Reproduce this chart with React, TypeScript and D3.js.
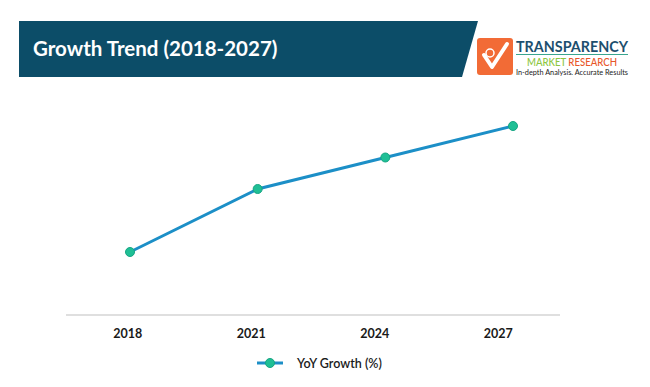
import React from "react";
import * as d3 from "d3";

const categories = ["2018", "2021", "2024", "2027"];
const yoyGrowth = [2.0, 4.0, 5.0, 6.0];
const seriesName = "YoY Growth (%)";
const title = "Growth Trend (2018-2027)";

const W = 650;
const H = 387;

export default function App() {
  const axisY = 315;
  const band = d3.scaleBand<string>().domain(categories).range([66, 560]);
  const xLine = d3.scalePoint<string>().domain(categories).range([130, 513]);
  const y = d3.scaleLinear().domain([0, 7]).range([axisY, 94.5]);
  const line = d3
    .line<number>()
    .x((_, i) => xLine(categories[i])!)
    .y((d) => y(d));

  const font = "Lato, 'Open Sans', sans-serif";

  return (
    <svg
      width={W}
      height={H}
      style={{ position: "absolute", left: 0, top: 0, background: "#fff" }}
      fontFamily={font}
    >
      <rect x={0} y={0} width={W} height={H} fill="#fff" />
      {/* Banner */}
      <path d="M19,21 L478,21 L462,77 L19,77 Z" fill="#0c4d68" />
      <text x={33} y={55.5} fill="#fff" fontSize={20.5} fontWeight={700}>
        {title}
      </text>

      {/* Logo */}
      <g>
        <rect x={477} y={38} width={36} height={37} rx={3} fill="#f26b36" />
        <path
          d="M484,55 L492,67 L507,44"
          fill="none"
          stroke="#fff"
          strokeWidth={4}
          strokeLinecap="round"
          strokeLinejoin="round"
        />
        <circle cx={490} cy={53} r={4} fill="none" stroke="#fff" strokeWidth={1.5} />
        <text x={516} y={52} fontSize={15} fontWeight={700} fill="#1d4f6e" textLength={112} lengthAdjust="spacingAndGlyphs">
          TRANSPARENCY
        </text>
        <line x1={516} x2={628} y1={54.5} y2={54.5} stroke="#3aa58f" strokeWidth={1.2} />
        <text x={527} y={65.5} fontSize={10.5} fontWeight={500} textLength={90} lengthAdjust="spacingAndGlyphs">
          <tspan fill="#8cc63f">MARKET </tspan>
          <tspan fill="#e8572a">RESEARCH</tspan>
        </text>
        <text x={516} y={75} fontSize={8} fill="#222" textLength={112} lengthAdjust="spacingAndGlyphs">
          In-depth Analysis. Accurate Results
        </text>
      </g>

      {/* Axis */}
      <line x1={66} x2={560} y1={axisY} y2={axisY} stroke="#bfbfbf" strokeWidth={1} />
      {categories.map((c) => (
        <text
          key={c}
          x={band(c)! + band.bandwidth() / 2}
          y={337.5}
          textAnchor="middle"
          fontSize={12.5}
          fontWeight={700}
          fill="#1a1a1a"
        >
          {c}
        </text>
      ))}

      {/* Series */}
      <path d={line(yoyGrowth)!} fill="none" stroke="#1c8fc7" strokeWidth={3} />
      {yoyGrowth.map((v, i) => (
        <circle
          key={i}
          cx={xLine(categories[i])!}
          cy={y(v)}
          r={4.5}
          fill="#1fbf95"
          stroke="#17a583"
          strokeWidth={1}
        />
      ))}

      {/* Legend */}
      <line x1={257} x2={283} y1={363} y2={363} stroke="#1c8fc7" strokeWidth={3} />
      <circle cx={270} cy={363} r={4.5} fill="#1fbf95" stroke="#17a583" strokeWidth={1} />
      <text x={297} y={367.5} fontSize={12.5} fill="#1a1a1a" fontWeight={600}>
        {seriesName}
      </text>
    </svg>
  );
}
